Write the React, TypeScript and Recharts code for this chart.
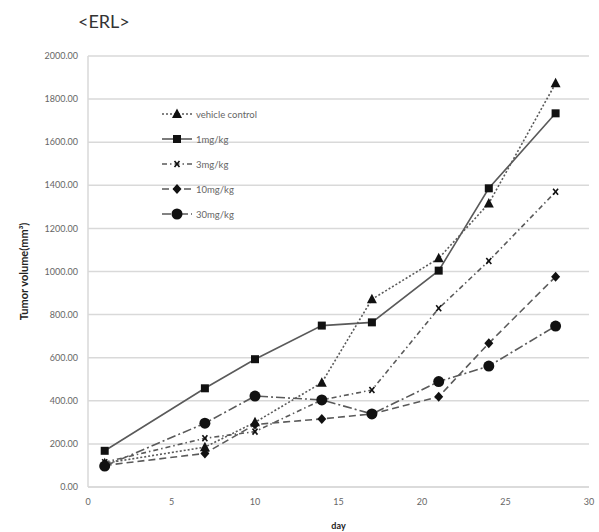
import React from 'react';
import { LineChart, Line, XAxis, YAxis, CartesianGrid } from 'recharts';

const days = [1, 7, 10, 14, 17, 21, 24, 28];
const vehicleControl = [110, 185, 300, 484, 871, 1061, 1316, 1873];
const mg1 = [168, 458, 593, 749, 764, 1004, 1386, 1734];
const mg3 = [115, 226, 257, 404, 450, 829, 1049, 1370];
const mg10 = [100, 156, 290, 316, 339, 419, 667, 976];
const mg30 = [97, 296, 422, 404, 339, 489, 561, 747];
const yTicks = [0, 200, 400, 600, 800, 1000, 1200, 1400, 1600, 1800, 2000];
const xTicks = [0, 5, 10, 15, 20, 25, 30];

const data = days.map((d, i) => ({
  day: d,
  vehicle: vehicleControl[i],
  mg1: mg1[i],
  mg3: mg3[i],
  mg10: mg10[i],
  mg30: mg30[i],
}));

const LINE = '#5a5a5a';
const MARK = '#111';
const FONT = 'Lato, "Open Sans", sans-serif';

type Shape = 'triangle' | 'square' | 'x' | 'diamond' | 'circle';

const Marker = ({ cx, cy, shape }: { cx: number; cy: number; shape: Shape }) => {
  if (cx == null || cy == null) return null;
  switch (shape) {
    case 'triangle':
      return <polygon points={`${cx},${cy - 5.5} ${cx + 5},${cy + 4} ${cx - 5},${cy + 4}`} fill={MARK} />;
    case 'square':
      return <rect x={cx - 4} y={cy - 4} width={8} height={8} fill={MARK} />;
    case 'x':
      return (
        <g stroke={MARK} strokeWidth={1.6}>
          <line x1={cx - 2.5} y1={cy - 3} x2={cx + 2.5} y2={cy + 3} />
          <line x1={cx + 2.5} y1={cy - 3} x2={cx - 2.5} y2={cy + 3} />
        </g>
      );
    case 'diamond':
      return <polygon points={`${cx},${cy - 5} ${cx + 4.5},${cy} ${cx},${cy + 5} ${cx - 4.5},${cy}`} fill={MARK} />;
    case 'circle':
      return <circle cx={cx} cy={cy} r={5.5} fill={MARK} />;
  }
  return null;
};

const series: { key: string; name: string; shape: Shape; dash: string }[] = [
  { key: 'vehicle', name: 'vehicle control', shape: 'triangle', dash: '2 2' },
  { key: 'mg1', name: '1mg/kg', shape: 'square', dash: '' },
  { key: 'mg3', name: '3mg/kg', shape: 'x', dash: '5 3 1.5 3' },
  { key: 'mg10', name: '10mg/kg', shape: 'diamond', dash: '7 4' },
  { key: 'mg30', name: '30mg/kg', shape: 'circle', dash: '9 3 2 3' },
];

const LegendBox = () => (
  <svg width={140} height={120} style={{ position: 'absolute', left: 160, top: 105 }}>
    {series.map((s, i) => {
      const y = 9 + i * 25;
      return (
        <g key={s.key}>
          <line x1={2} y1={y} x2={32} y2={y} stroke={LINE} strokeWidth={1.6} strokeDasharray={s.dash || undefined} />
          <Marker cx={17} cy={y} shape={s.shape} />
          <text x={36} y={y + 3.5} fontSize={9.5} fill="#666" fontFamily={FONT}>{s.name}</text>
        </g>
      );
    })}
  </svg>
);

export default function App() {
  return (
    <div style={{ position: 'absolute', left: 0, top: 0, width: 599, height: 532, background: '#fff' }}>
      <LineChart width={599} height={532} data={data} margin={{ top: 56, right: 10, bottom: 0, left: 0 }}>
        <CartesianGrid vertical={false} stroke="#d9d9d9" strokeWidth={1.5} />
        <XAxis
          dataKey="day"
          type="number"
          domain={[0, 30]}
          ticks={xTicks}
          height={45}
          tickLine={false}
          tickSize={0}
          tickMargin={12}
          axisLine={{ stroke: '#d9d9d9', strokeWidth: 1.5 }}
          tick={{ fontSize: 9, fill: '#666', fontFamily: FONT }}
          label={{ value: 'day', position: 'insideBottom', offset: 3, fontSize: 9, fontWeight: 'bold', fill: '#222', fontFamily: FONT }}
        />
        <YAxis
          type="number"
          domain={[0, 2000]}
          ticks={yTicks}
          width={88}
          tickLine={false}
          tickSize={0}
          tickMargin={10}
          axisLine={{ stroke: '#d9d9d9', strokeWidth: 1.5 }}
          tickFormatter={(v: number) => v.toFixed(2)}
          tick={{ fontSize: 9, fill: '#666', fontFamily: FONT }}
          label={{
            value: 'Tumor volume(mm³)',
            angle: -90,
            position: 'insideLeft',
            offset: 24,
            style: { textAnchor: 'middle', fontSize: 11, fontWeight: 'bold', fill: '#222', fontFamily: FONT },
          }}
        />
        {series.map((s) => (
          <Line
            key={s.key}
            dataKey={s.key}
            name={s.name}
            type="linear"
            stroke={LINE}
            strokeWidth={1.6}
            strokeDasharray={s.dash || undefined}
            dot={(p: any) => <Marker key={`${s.key}-${p.index}`} cx={p.cx} cy={p.cy} shape={s.shape} />}
            isAnimationActive={false}
          />
        ))}
      </LineChart>
      <div style={{ position: 'absolute', left: 78, top: 10, fontSize: 18, fontFamily: FONT, color: '#333' }}>&lt;ERL&gt;</div>
      <LegendBox />
    </div>
  );
}
